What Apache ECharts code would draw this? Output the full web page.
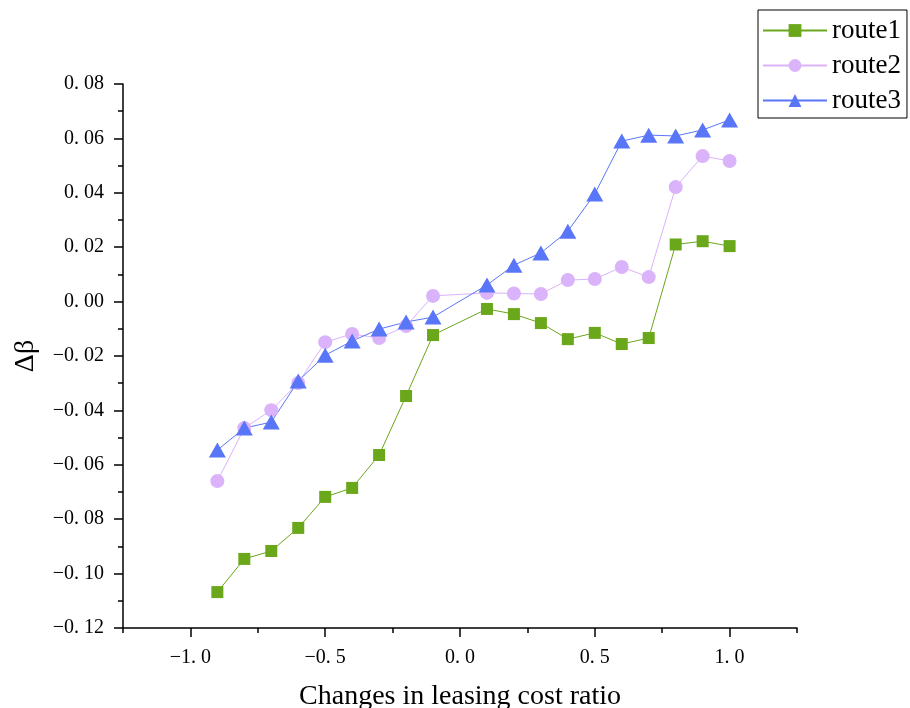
<!DOCTYPE html>
<html><head><meta charset="utf-8">
<script src="https://cdn.jsdelivr.net/npm/echarts@6/dist/echarts.min.js"></script>
<style>html,body{margin:0;padding:0;background:#fff;overflow:hidden}#c{width:910px;height:708px}</style>
</head><body><div id="c"></div>
<script>
const xValues = [-0.9,-0.8,-0.7,-0.6,-0.5,-0.4,-0.3,-0.2,-0.1,0.1,0.2,0.3,0.4,0.5,0.6,0.7,0.8,0.9,1.0];
const route1 = [-0.1068,-0.0946,-0.0917,-0.0832,-0.0718,-0.0685,-0.0564,-0.0347,-0.0123,-0.0027,-0.0046,-0.0079,-0.0138,-0.0115,-0.0156,-0.0134,0.0210,0.0222,0.0204];
const route2 = [-0.0660,-0.0465,-0.0399,-0.0299,-0.0149,-0.0119,-0.0134,-0.0090,0.0021,0.0032,0.0030,0.0028,0.0079,0.0083,0.0127,0.0090,0.0421,0.0535,0.0517];
const route3 = [-0.0546,-0.0465,-0.0443,-0.0292,-0.0197,-0.0145,-0.0101,-0.0075,-0.0057,0.0061,0.0134,0.0179,0.0259,0.0396,0.0590,0.0612,0.0609,0.0631,0.0668];
const xMajorTicks = [-1.0,-0.5,0.0,0.5,1.0];
const xMinorTicks = [-1.25,-0.75,-0.25,0.25,0.75,1.25];
const seriesNames = ['route1','route2','route3'];

const FONT = '"Liberation Serif","DejaVu Serif",serif';
function fmtX(v){ return (v < -1e-9 ? '\u2212' : '') + Math.abs(v).toFixed(1).replace('.', '. '); }
function fmtY(v){ return (v < -1e-9 ? '\u2212' : '') + Math.abs(v).toFixed(2).replace('.', '. '); }
const pairs = arr => xValues.map((x,i)=>[x,arr[i]]);

const chart = echarts.init(document.getElementById('c'), null, {renderer:'canvas', width:910, height:708});
chart.setOption({
  backgroundColor:'#fff',
  animation:false,
  grid:{left:123,width:674,top:84,height:544,containLabel:false,outerBoundsMode:'none'},
  legend:{
    orient:'vertical', left:758, top:10,
    padding:[7,6,4,4], itemGap:8, itemWidth:64, itemHeight:16,
    borderColor:'#000', borderWidth:1,
    textStyle:{fontFamily:FONT,fontSize:27,color:'#000'},
    data:seriesNames
  },
  xAxis:[{
    type:'value', min:-1.25, max:1.25,
    name:'Changes in leasing cost ratio', nameLocation:'middle', nameGap:55,
    nameTextStyle:{fontFamily:FONT,fontSize:28,color:'#000'},
    axisLine:{show:true,onZero:false,lineStyle:{color:'#000',width:1.5}},
    axisTick:{show:true,length:9,customValues:xMajorTicks,lineStyle:{color:'#000',width:1.5}},
    axisLabel:{customValues:xMajorTicks,formatter:fmtX,fontFamily:FONT,fontSize:20,color:'#000',margin:20},
    splitLine:{show:false}
  },{
    type:'value', min:-1.25, max:1.25, position:'bottom',
    axisLine:{show:false,onZero:false},
    axisTick:{show:true,length:5,customValues:xMinorTicks,lineStyle:{color:'#000',width:1.5}},
    axisLabel:{show:false}, splitLine:{show:false}
  }],
  yAxis:{
    type:'value', min:-0.12, max:0.08, interval:0.02,
    name:'\u0394\u03B2', nameLocation:'middle', nameGap:83, nameRotate:90,
    nameTextStyle:{fontFamily:FONT,fontSize:28,color:'#000'},
    axisLine:{show:true,onZero:false,lineStyle:{color:'#000',width:1.5}},
    axisTick:{show:true,length:9,lineStyle:{color:'#000',width:1.5}},
    minorTick:{show:true,splitNumber:2,length:5,lineStyle:{color:'#000',width:1.5}},
    axisLabel:{formatter:fmtY,fontFamily:FONT,fontSize:20,color:'#000',margin:19},
    splitLine:{show:false}
  },
  series:[
    {name:'route1',type:'line',data:pairs(route1),symbol:'rect',symbolSize:12,
     itemStyle:{color:'#6aa71a'},lineStyle:{color:'#6aa71a',width:1}},
    {name:'route2',type:'line',data:pairs(route2),symbol:'circle',symbolSize:14,
     itemStyle:{color:'#dab3fa'},lineStyle:{color:'#dab3fa',width:1}},
    {name:'route3',type:'line',data:pairs(route3),symbol:'triangle',symbolSize:[17,15],
     itemStyle:{color:'#5a76f8'},lineStyle:{color:'#5a76f8',width:1}}
  ]
});
</script></body></html>
